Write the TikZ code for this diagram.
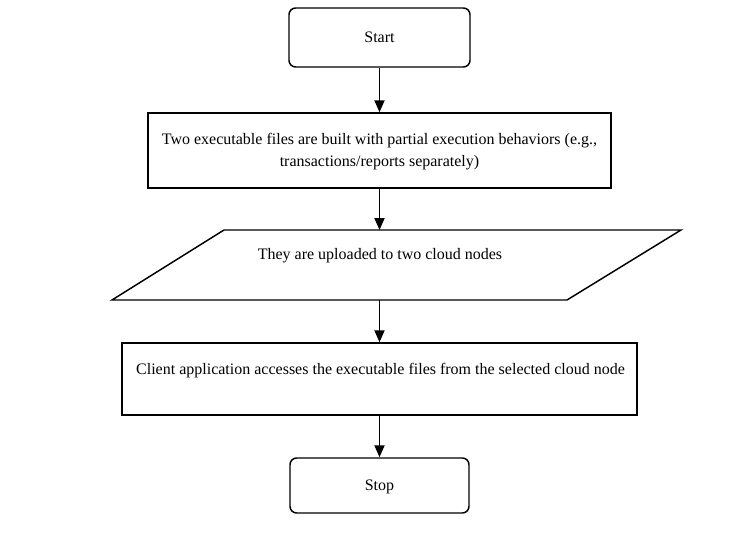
\documentclass[tikz,border=0pt]{standalone}
\usepackage{fontspec}
\setmainfont{Liberation Serif}
\usetikzlibrary{arrows.meta}
\begin{document}
\begin{tikzpicture}[x=0.75pt,y=-0.75pt,
  every node/.style={font=\fontsize{12}{16.5}\selectfont},
  termbox/.style={draw, line width=1.1pt, rounded corners=5pt, inner sep=0pt},
  procbox/.style={draw, line width=1.1pt, inner sep=0pt},
  txt/.style={inner sep=0pt, align=center},
  flow/.style={line width=1.4pt, -{Triangle[length=9pt,width=7.5pt]}}]
\useasboundingbox (0,0) rectangle (736,546);
\node[termbox, minimum width=135.75pt, minimum height=44.25pt] (start) at (379.5,37.5) {};
\node[txt] (starttxt) at (379.5,37.5) {Start};
\node[procbox, minimum width=347.25pt, minimum height=56.25pt] (build) at (379.5,150.5) {};
\node[txt] (buildtxt) at (379.5,151.5) {Two executable files are built with partial execution behaviors (e.g.,\\ transactions/reports separately)};
\draw[line width=1.1pt] (224,230) -- (681,230) -- (567,300) -- (112,300) -- cycle;
\coordinate (paratop) at (379.5,230);
\coordinate (parabot) at (379.5,300);
\node[txt] (paratxt) at (380,256) {They are uploaded to two cloud nodes};
\node[procbox, minimum width=386.25pt, minimum height=54pt] (client) at (379.5,379) {};
\node[txt] (clienttxt) at (380.5,371) {Client application accesses the executable files from the selected cloud node};
\node[termbox, minimum width=134.25pt, minimum height=41.25pt] (stop) at (379.5,485.5) {};
\node[txt] (stoptxt) at (379.5,487) {Stop};
\draw[flow] (start.south) -- (build.north);
\draw[flow] (build.south) -- (paratop);
\draw[flow] (parabot) -- (client.north);
\draw[flow] (client.south) -- (stop.north);
\end{tikzpicture}
\end{document}
